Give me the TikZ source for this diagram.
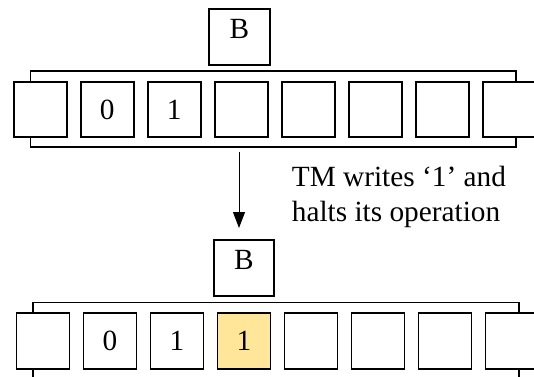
\documentclass[tikz,border=0pt]{standalone}
\usepackage{fontspec}
\setmainfont{Liberation Serif}
\usetikzlibrary{arrows.meta}
\definecolor{cellyellow}{HTML}{FFE699}
\tikzset{
  tape/.style={draw, line width=1.8pt, minimum width=485.5pt, minimum height=75.7pt, inner sep=0pt},
  cellbox/.style={draw, fill=white, line width=1.8pt, minimum width=53pt, minimum height=55.5pt, inner sep=0pt,
    font=\fontsize{29.3}{35}\selectfont},
  headbox/.style={draw, fill=white, line width=1.7pt, minimum width=60.5pt, minimum height=56pt, inner sep=0pt,
    text height=19.4pt, text depth=16.8pt, font=\fontsize{29.3}{35}\selectfont},
  note/.style={inner sep=0pt, align=left, anchor=north west, font=\fontsize{29.3}{35}\selectfont},
  flow/.style={line width=1pt, -{Triangle[width=12pt,length=16pt]}}
}
\begin{document}
\begin{tikzpicture}[x=1pt,y=-1pt]
\useasboundingbox (0,0) rectangle (534,376);
% top tape
\node[tape] (tapeA) at (273.3,108.85) {};
\foreach \i/\t in {0/,1/0,2/1,3/,4/,5/,6/,7/} {
  \node[cellbox] (a\i) at ({40.1+67*\i},109.6) {\t};
}
\node[headbox] (headA) at (239.5,37) {B};
% bottom tape
\node[tape] (tapeB) at (276,340.3) {};
\foreach \i/\t in {0/,1/0,2/1,4/,5/,6/,7/} {
  \node[cellbox] (b\i) at ({43+67*\i},340.9) {\t};
}
\node[cellbox, fill=cellyellow] (b3) at ({43+67*3},340.9) {1};
\node[headbox] (headB) at (244,268) {B};
% arrow
\coordinate (arrS) at (239,151.7);
\coordinate (arrE) at (239,228);
\draw[flow] (arrS) -- (arrE);
% note
\node[note] (msg) at (291.7,166.4) {TM writes ‘1’ and\\halts its operation};
\end{tikzpicture}
\end{document}
